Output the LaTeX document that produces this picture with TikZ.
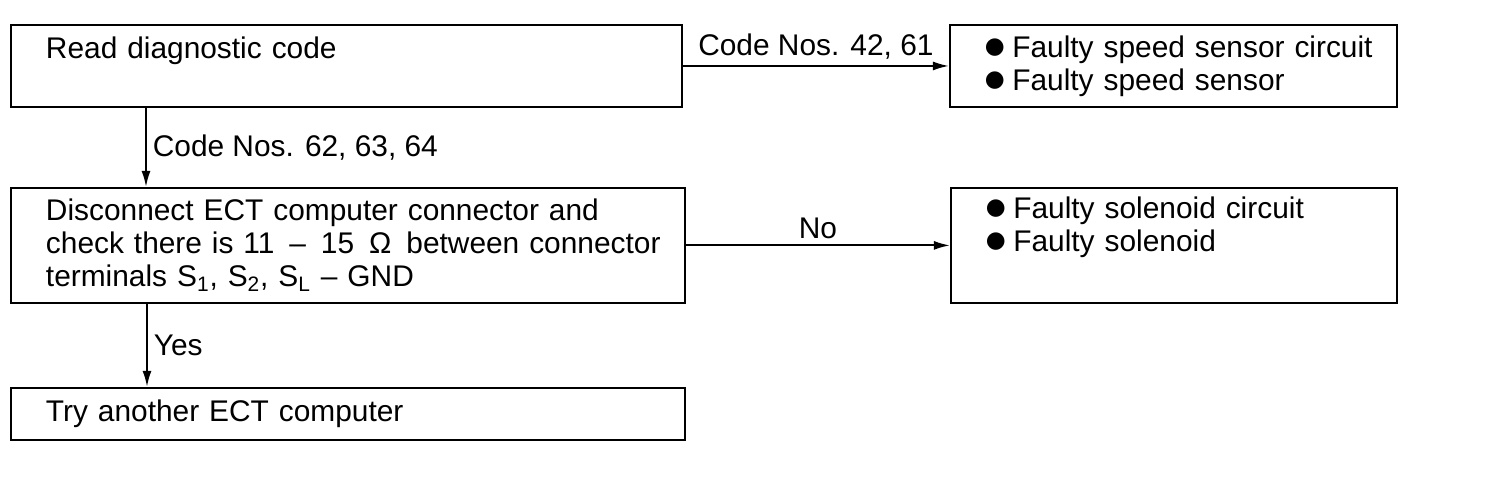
\documentclass[tikz,border=0pt]{standalone}
\usepackage{fontspec}
\setmainfont{Liberation Sans}
\newfontfamily\symfont{DejaVu Sans}
\usetikzlibrary{arrows.meta, positioning}
\newcommand{\blt}{\raisebox{0.12em}{\symfont\fontsize{13}{13}\selectfont ●}\hspace{0.25em}}

\begin{document}
\begin{tikzpicture}[
  box/.style={draw, line width=1.1pt, align=left, inner xsep=0.7cm, inner ysep=0pt},
  arr/.style={-{Latex[length=3.2mm, width=1.8mm]}, line width=1.1pt},
  every node/.style={font=\fontsize{17}{18.8}\selectfont}
]
  \useasboundingbox (0,0) rectangle (30.08,-9.64);

  % Boxes
  \node[box, anchor=north west, text width=12.02cm, minimum height=1.64cm,
        text depth=0.75cm] (read) at (0.2,-0.48) {Read diagnostic code};
  \node[box, right=5.32cm of read, text width=7.54cm, minimum height=1.64cm] (speed)
    {\mbox{\blt Faulty speed sensor circuit}\\ \mbox{\blt Faulty speed sensor}};
  \node[box, below=1.58cm of read.south west, anchor=north west, text width=12.08cm,
        minimum height=2.3cm] (check)
    {\mbox{Disconnect ECT computer connector and}\\
     \mbox{check there is 11 \,–\, 15 \,Ω\, between connector}\\
     \mbox{terminals S\textsubscript{1}, S\textsubscript{2}, S\textsubscript{L} – GND}};
  \node[box, right=5.28cm of check, text width=7.52cm, minimum height=2.3cm] (solenoid)
    {\mbox{\blt Faulty solenoid circuit}\\ \mbox{\blt Faulty solenoid}\\ \strut};
  \node[box, below=1.66cm of check.south west, anchor=north west, text width=12.08cm,
        minimum height=1.04cm] (try) {Try another ECT computer};

  % Arrows
  \draw[arr] (read) -- node[above] {Code Nos. 42, 61} (speed);
  \draw[arr] ([xshift=2.72cm]read.south west) -- node[right] {Code Nos. 62, 63, 64}
    ([xshift=2.72cm]check.north west);
  \draw[arr] (check) -- node[above] {No} (solenoid);
  \draw[arr] ([xshift=2.74cm]check.south west) -- node[right] {Yes}
    ([xshift=2.74cm]try.north west);
\end{tikzpicture}
\end{document}
